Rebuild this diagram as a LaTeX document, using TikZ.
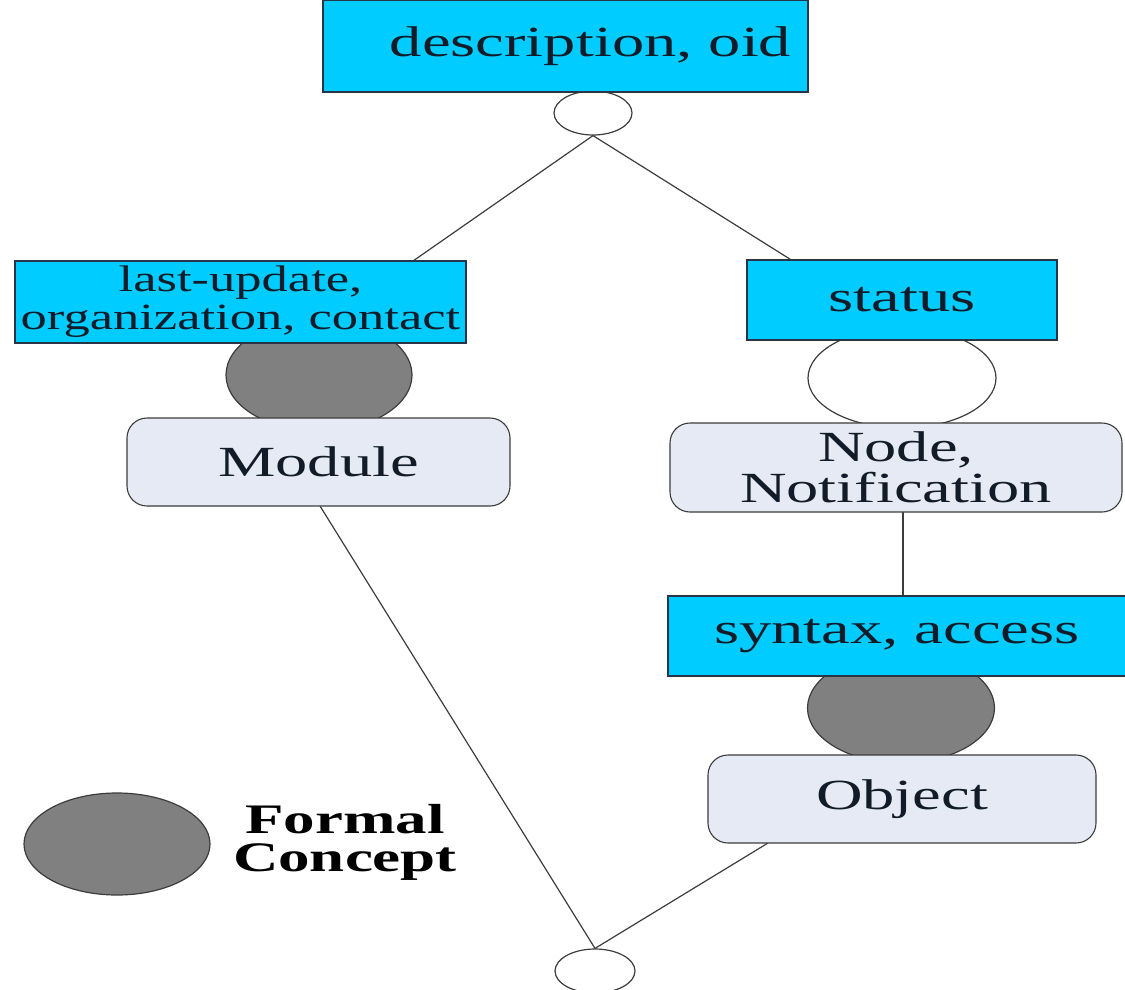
\documentclass[tikz,border=0pt]{standalone}
\usepackage{fontspec}
\setmainfont{Liberation Serif}[FakeStretch=1.5]
\newfontfamily\narrowfont{Liberation Serif}[FakeStretch=1.42]
\usetikzlibrary{shapes.geometric}
\definecolor{attrcyan}{RGB}{0,204,255}
\definecolor{objfill}{RGB}{230,234,245}
\definecolor{conceptgray}{RGB}{128,128,128}
\definecolor{boxline}{RGB}{40,52,72}
\definecolor{edgegray}{RGB}{60,60,60}
\definecolor{inktext}{RGB}{18,28,40}
\tikzset{
  attrbox/.style={draw=boxline, fill=attrcyan, line width=1.3pt, rectangle, inner sep=0pt, align=center, text=inktext},
  objbox/.style={draw=edgegray, fill=objfill, line width=1.1pt, rectangle, rounded corners=20pt, inner sep=0pt, align=center, text=inktext},
  emptyconcept/.style={draw=edgegray, fill=white, line width=1.2pt, ellipse, inner sep=0pt},
  fullconcept/.style={draw=edgegray, fill=conceptgray, line width=1.2pt, ellipse, inner sep=0pt},
  edge/.style={draw=edgegray, line width=1.2pt},
  lbl/.style={font=\fontsize{43}{41}\selectfont}
}
\begin{document}
\begin{tikzpicture}[x=1pt, y=-1pt]
\useasboundingbox (0,0) rectangle (1125,989);
% edges (behind)
\coordinate (luTop) at (413,261);
\coordinate (stTop) at (793,261);
\coordinate (modBot) at (320,506);
\coordinate (objBot) at (768,843);
\coordinate (nnBot) at (903,511);
\coordinate (synTop) at (903,596);
\node[emptyconcept, minimum width=78pt, minimum height=44pt] (topc) at (593,113) {};
\node[emptyconcept, minimum width=80pt, minimum height=44pt] (botc) at (595,971) {};
\draw[edge] (topc.south) -- (luTop);
\draw[edge] (topc.south) -- (stTop);
\draw[edge] (modBot) -- (botc.north);
\draw[edge] (objBot) -- (botc.north);
\draw[edge] (nnBot) -- (synTop);
% concepts
\node[fullconcept, minimum width=186pt, minimum height=112pt] (c1) at (319,375) {};
\node[emptyconcept, minimum width=188pt, minimum height=100pt] (c2) at (902,378) {};
\node[fullconcept, minimum width=187pt, minimum height=110pt] (c3) at (901,708) {};
% boxes
\node[attrbox, lbl, minimum width=485pt, minimum height=92pt] (desc) at (565.5,46) {\hspace*{50pt}description, oid};
\node[attrbox, minimum width=451pt, minimum height=82pt, font=\narrowfont\fontsize{37}{38}\selectfont] (lu) at (240.5,302) {last-update,\\organization, contact};
\node[attrbox, lbl, minimum width=310pt, minimum height=80pt] (status) at (902,300) {status};
\node[objbox, lbl, minimum width=383pt, minimum height=88pt] (module) at (318.5,462) {Module};
\node[objbox, lbl, minimum width=452pt, minimum height=89pt] (nn) at (896,467.5) {Node,\\Notification};
\node[attrbox, lbl, minimum width=458pt, minimum height=80pt] (syn) at (897,636) {syntax, access};
\node[objbox, lbl, minimum width=388pt, minimum height=88pt] (obj) at (902,799) {Object};
% legend
\node[fullconcept, minimum width=186pt, minimum height=102pt] (leg) at (117,844) {};
\node[font=\bfseries\fontsize{42}{38}\selectfont, align=center, inner sep=0pt] (legtxt) at (345,842) {Formal\\Concept};
\end{tikzpicture}
\end{document}
